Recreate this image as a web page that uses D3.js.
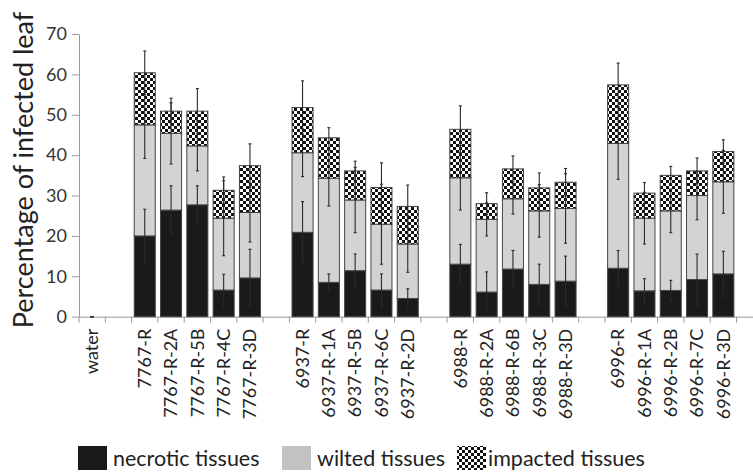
<!DOCTYPE html>
<html>
<head>
<meta charset="utf-8">
<script src="https://cdn.jsdelivr.net/npm/d3@7"></script>
<style>
  html, body { margin: 0; padding: 0; background: #fff; }
  svg { display: block; }
</style>
</head>
<body>
<svg id="chart" width="753" height="472"></svg>
<script>
// ---- data ----
const categories = ["water", "",
  "7767-R", "7767-R-2A", "7767-R-5B", "7767-R-4C", "7767-R-3D", "",
  "6937-R", "6937-R-1A", "6937-R-5B", "6937-R-6C", "6937-R-2D", "",
  "6988-R", "6988-R-2A", "6988-R-6B", "6988-R-3C", "6988-R-3D", "",
  "6996-R", "6996-R-1A", "6996-R-2B", "6996-R-7C", "6996-R-3D", ""];

const necrotic    = [0, null, 20.0, 26.4, 27.7, 6.6, 9.6, null, 20.9, 8.5, 11.4, 6.6, 4.5, null, 13.0, 6.1, 11.8, 8.0, 8.8, null, 12.0, 6.4, 6.5, 9.2, 10.6, null];
const wilted      = [0, null, 27.5, 19.0, 14.6, 17.8, 16.2, null, 19.7, 25.8, 17.5, 16.3, 13.5, null, 21.4, 18.0, 17.4, 18.2, 18.0, null, 30.9, 18.0, 19.7, 20.8, 22.8, null];
const impacted    = [0, null, 12.9, 5.5, 8.6, 6.9, 11.6, null, 11.2, 10.0, 7.2, 9.1, 9.3, null, 12.0, 3.9, 7.4, 5.7, 6.5, null, 14.5, 6.2, 8.8, 6.1, 7.5, null];
const necroticErr = [0, null, 6.6, 6.0, 4.7, 3.9, 7.1, null, 7.6, 2.1, 4.1, 4.0, 2.4, null, 4.9, 5.0, 4.6, 5.0, 6.2, null, 4.4, 3.0, 2.5, 6.3, 5.6, null];
const wiltedErr   = [0, null, 8.3, 7.6, 6.2, 9.3, 7.3, null, 5.9, 6.9, 8.1, 9.9, 7.0, null, 8.0, 4.1, 3.8, 6.5, 8.6, null, 8.9, 6.4, 5.4, 6.0, 7.8, null];
const impactedErr = [0, null, 5.4, 3.2, 5.6, 3.3, 5.4, null, 6.6, 2.5, 2.4, 6.1, 5.3, null, 5.8, 2.7, 3.2, 3.7, 3.4, null, 5.4, 2.6, 2.2, 3.2, 2.9, null];

const yTicks = [0, 10, 20, 30, 40, 50, 60, 70];
const seriesNames = ["necrotic tissues", "wilted tissues", "impacted tissues"];
const yTitle = "Percentage of infected leaf";

// ---- build table ----
const keys = ["necrotic", "wilted", "impacted"];
const rows = categories.map((c, i) => ({
  idx: i, name: c, gap: necrotic[i] === null,
  necrotic: necrotic[i] || 0, wilted: wilted[i] || 0, impacted: impacted[i] || 0,
  err: [necroticErr[i] || 0, wiltedErr[i] || 0, impactedErr[i] || 0]
}));
const stacked = d3.stack().keys(keys)(rows);

// ---- layout ----
const svg = d3.select("#chart");
const plotLeft = 79, plotBottom = 316.7, plotTop = 34;
const slot = 26.3;
const x = d3.scaleBand().domain(d3.range(categories.length))
  .range([plotLeft, plotLeft + slot * categories.length]).padding(0);
const y = d3.scaleLinear().domain([0, 70]).range([plotBottom, plotTop]);

const fontFam = "Lato, 'Open Sans', sans-serif";

// pattern
const defs = svg.append("defs");
const pat = defs.append("pattern").attr("id", "checker")
  .attr("patternUnits", "userSpaceOnUse").attr("width", 6).attr("height", 6);
pat.append("rect").attr("width", 6).attr("height", 6).attr("fill", "#fff");
pat.append("rect").attr("x", 0).attr("y", 0).attr("width", 3).attr("height", 3).attr("fill", "#111");
pat.append("rect").attr("x", 3).attr("y", 3).attr("width", 3).attr("height", 3).attr("fill", "#111");

const fills = ["#1a1a1a", "#d3d3d3", "url(#checker)"];

// y axis
const yAxis = svg.append("g").attr("transform", `translate(${plotLeft},0)`)
  .call(d3.axisLeft(y).tickValues(yTicks).tickSize(7).tickPadding(5).tickSizeOuter(0));
yAxis.select(".domain").attr("stroke", "#9a9a9a");
yAxis.selectAll(".tick line").attr("stroke", "#9a9a9a");
yAxis.selectAll(".tick text").attr("font-family", fontFam).attr("font-size", 18).attr("fill", "#333");

// x axis (labels)
const xAxis = svg.append("g").attr("transform", `translate(0,${plotBottom})`)
  .call(d3.axisBottom(x).tickSize(0).tickSizeOuter(0).tickFormat(i => categories[i]));
xAxis.select(".domain").attr("stroke", "#9a9a9a");
xAxis.selectAll(".tick text")
  .attr("font-family", fontFam).attr("font-size", 18).attr("fill", "#222")
  .attr("transform", "rotate(-90)")
  .attr("x", -12).attr("y", 0).attr("dy", "0.35em")
  .attr("text-anchor", "end");
// boundary ticks
svg.append("g").selectAll("line")
  .data(d3.range(categories.length + 1))
  .join("line")
  .attr("x1", i => i < categories.length ? x(i) : x(i - 1) + x.bandwidth())
  .attr("x2", i => i < categories.length ? x(i) : x(i - 1) + x.bandwidth())
  .attr("y1", plotBottom).attr("y2", plotBottom + 6)
  .attr("stroke", "#9a9a9a");

// bars
const bw = x.bandwidth() * 0.8;
const off = (x.bandwidth() - bw) / 2;
stacked.forEach((s, si) => {
  svg.append("g").selectAll("rect")
    .data(s.filter(d => !d.data.gap && d.data.name !== "water"))
    .join("rect")
    .attr("x", d => x(d.data.idx) + off)
    .attr("width", bw)
    .attr("y", d => y(d[1]))
    .attr("height", d => y(d[0]) - y(d[1]))
    .attr("fill", fills[si])
    .attr("stroke", "#444").attr("stroke-width", 1);
});

// error bars
const errG = svg.append("g").attr("stroke", "#2a2a2a").attr("stroke-width", 1.1);
stacked.forEach((s, si) => {
  s.filter(d => !d.data.gap).forEach(d => {
    const cx = x(d.data.idx) + x.bandwidth() / 2;
    const e = d.data.err[si];
    const y0 = y(d[1] - e), y1 = y(d[1] + e);
    errG.append("line").attr("x1", cx).attr("x2", cx).attr("y1", y0).attr("y2", y1);
    errG.append("line").attr("x1", cx - 1.5).attr("x2", cx + 1.5).attr("y1", y0).attr("y2", y0);
    errG.append("line").attr("x1", cx - 1.5).attr("x2", cx + 1.5).attr("y1", y1).attr("y2", y1);
  });
});

// y title
svg.append("text")
  .attr("transform", `translate(33,170) rotate(-90)`)
  .attr("text-anchor", "middle")
  .attr("font-family", fontFam).attr("font-size", 27).attr("fill", "#222")
  .text(yTitle);

// legend
const legX = [78, 282, 457];
const legG = svg.append("g");
seriesNames.forEach((n, i) => {
  legG.append("rect").attr("x", legX[i]).attr("y", 446).attr("width", 29).attr("height", 24)
    .attr("fill", i === 1 ? "#c2c2c2" : fills[i]);
  legG.append("text").attr("x", legX[i] + (i === 2 ? 31 : 35)).attr("y", 466)
    .attr("font-family", fontFam).attr("font-size", 21.5).attr("fill", "#222")
    .text(n);
});
</script>
</body>
</html>
